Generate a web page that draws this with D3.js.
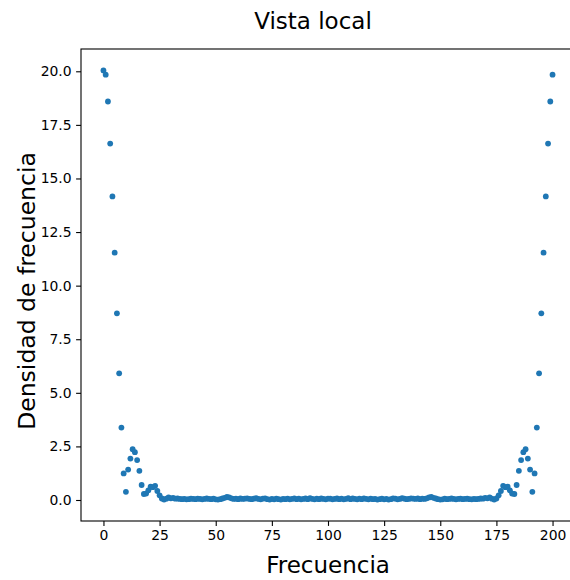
<!DOCTYPE html>
<html>
<head>
<meta charset="utf-8">
<script src="https://cdn.jsdelivr.net/npm/d3@7"></script>
<style>
  html, body { margin: 0; padding: 0; background: #fff; }
  svg { display: block; font-family: "DejaVu Sans", sans-serif; }
</style>
</head>
<body>
<svg id="chart" width="570" height="580"></svg>
<script>
// Data
const title = "Vista local";
const xLabel = "Frecuencia";
const yLabel = "Densidad de frecuencia";
const xTicks = [0, 25, 50, 75, 100, 125, 150, 175, 200];
const yTicks = [0, 2.5, 5, 7.5, 10, 12.5, 15, 17.5, 20];
const density = [
  20.04, 19.84, 18.59, 16.63, 14.16, 11.54, 8.71, 5.91, 3.38, 1.24, 0.38,
  1.42, 1.93, 2.37, 2.23, 1.86, 1.36, 0.70, 0.28, 0.30, 0.45,
  0.62, 0.60, 0.66, 0.42, 0.22, 0.07, 0.02, 0.06, 0.12, 0.08,
  0.10, 0.06, 0.07, 0.05, 0.04, 0.05, 0.03, 0.04, 0.06, 0.05,
  0.04, 0.06, 0.05, 0.03, 0.05, 0.07, 0.05, 0.04, 0.06, 0.03,
  0.02, 0.04, 0.07, 0.10, 0.14, 0.12, 0.08, 0.05, 0.06, 0.04,
  0.07, 0.05, 0.06, 0.08, 0.05, 0.04, 0.06, 0.09, 0.05, 0.03,
  0.06, 0.08, 0.04, 0.02, 0.05, 0.03, 0.06, 0.04, 0.02, 0.05,
  0.04, 0.06, 0.03, 0.05, 0.08, 0.04, 0.06, 0.03, 0.05, 0.07,
  0.04, 0.09, 0.05, 0.03, 0.06, 0.04, 0.07, 0.05, 0.03, 0.06,
  0.06, 0.03, 0.05, 0.07, 0.04, 0.06, 0.03, 0.05, 0.09, 0.04,
  0.07, 0.05, 0.03, 0.06, 0.04, 0.08, 0.05, 0.03, 0.06, 0.04,
  0.05, 0.02, 0.04, 0.06, 0.03, 0.05, 0.02, 0.04, 0.08, 0.06,
  0.03, 0.05, 0.09, 0.06, 0.04, 0.05, 0.08, 0.06, 0.05, 0.07,
  0.04, 0.06, 0.05, 0.08, 0.12, 0.14, 0.10, 0.07, 0.04, 0.02,
  0.03, 0.06, 0.04, 0.05, 0.07, 0.05, 0.03, 0.05, 0.06, 0.04,
  0.05, 0.06, 0.04, 0.03, 0.05, 0.04, 0.05, 0.07, 0.06, 0.10,
  0.08, 0.12, 0.06, 0.02, 0.07, 0.22, 0.42, 0.66, 0.60, 0.62,
  0.45, 0.30, 0.28, 0.70, 1.36, 1.86, 2.23, 2.37, 1.93, 1.42,
  0.38, 1.24, 3.38, 5.91, 8.71, 11.54, 14.16, 16.63, 18.59, 19.84
];
const frequency = density.map((d, i) => i);

const svg = d3.select("#chart");
const L = 81, T = 49, B = 521, R = 575;

const x = d3.scaleLinear().domain([-10, 210]).range([L, R]);
const y = d3.scaleLinear().domain([-0.98, 21.04]).range([B, T]);

// Points
svg.append("g")
  .selectAll("circle")
  .data(density)
  .join("circle")
  .attr("cx", (d, i) => x(frequency[i]))
  .attr("cy", d => y(d))
  .attr("r", 2.9)
  .attr("fill", "#1f77b4");

// Axes
const xAxis = svg.append("g")
  .attr("transform", `translate(0,${B})`)
  .call(d3.axisBottom(x).tickValues(xTicks).tickFormat(d3.format("d")).tickSize(4.9).tickPadding(4.5));
const yAxis = svg.append("g")
  .attr("transform", `translate(${L},0)`)
  .call(d3.axisLeft(y).tickValues(yTicks).tickFormat(d3.format(".1f")).tickSize(4.9).tickPadding(4.5));

[xAxis, yAxis].forEach(a => {
  a.select(".domain").remove();
  a.selectAll(".tick line").attr("stroke", "#000").attr("stroke-width", 1.1);
  a.selectAll(".tick text")
    .attr("fill", "#000")
    .style("font-family", "'DejaVu Sans', sans-serif")
    .style("font-size", "13.9px");
});

// Spines
svg.append("rect")
  .attr("x", L).attr("y", T)
  .attr("width", R - L).attr("height", B - T)
  .attr("fill", "none").attr("stroke", "#000").attr("stroke-width", 1.1);

// Labels
svg.append("text")
  .attr("x", 313).attr("y", 29)
  .attr("text-anchor", "middle")
  .style("font-size", "23px")
  .attr("fill", "#000")
  .text(title);

svg.append("text")
  .attr("x", (L + R) / 2).attr("y", 573)
  .attr("text-anchor", "middle")
  .style("font-size", "23px")
  .attr("fill", "#000")
  .text(xLabel);

svg.append("text")
  .attr("transform", `translate(35,${(T + B) / 2 + 6}) rotate(-90)`)
  .attr("text-anchor", "middle")
  .style("font-size", "23.5px")
  .attr("fill", "#000")
  .text(yLabel);
</script>
</body>
</html>
